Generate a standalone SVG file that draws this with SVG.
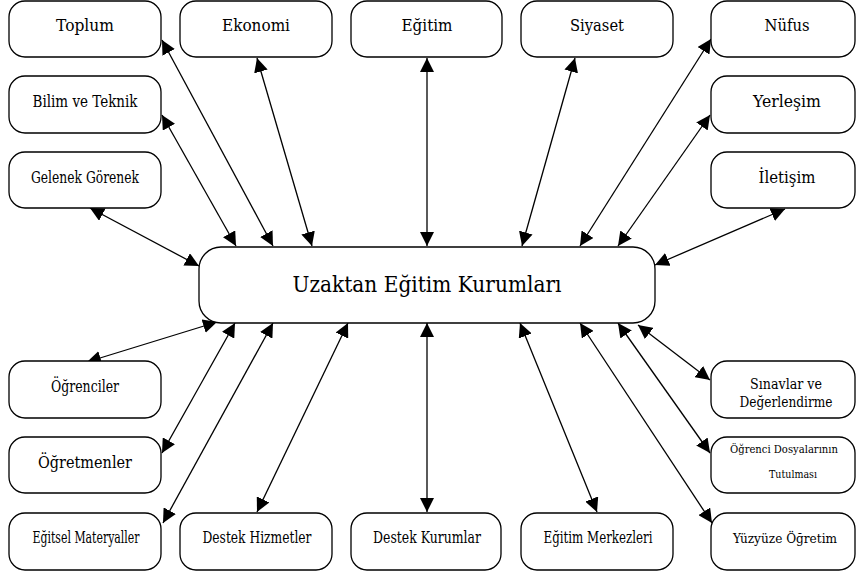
<svg xmlns="http://www.w3.org/2000/svg" width="856" height="575" viewBox="0 0 856 575">
<style>
.box{fill:#fff;stroke:#000;stroke-width:1.3}
.t{font-family:'DejaVu Serif','Noto Serif','Times New Roman',serif;font-size:17px;text-anchor:middle;fill:#000}
.n{font-size:13.5px}
.s{font-size:14.5px}
.xs{font-size:10.2px}
.c{font-size:23px}
.cn{stroke:#000;stroke-width:1.3;fill:none;marker-start:url(#ah);marker-end:url(#ah)}
</style>
<defs>
<marker id="ah" viewBox="0 -7 14 14" refX="14" refY="0" markerWidth="14" markerHeight="14" markerUnits="userSpaceOnUse" orient="auto-start-reverse">
<path d="M0,-7 L14,0 L0,7 Z" fill="#000"/>
</marker>
</defs>
<rect width="856" height="575" fill="#fff"/>
<g id="connectors">
<line class="cn" x1="273" y1="246" x2="162" y2="40"/>
<line class="cn" x1="236" y1="246" x2="162" y2="115"/>
<line class="cn" x1="312" y1="246" x2="257" y2="58"/>
<line class="cn" x1="427" y1="246" x2="427" y2="58"/>
<line class="cn" x1="522" y1="246" x2="575" y2="58"/>
<line class="cn" x1="580" y1="246" x2="711" y2="39"/>
<line class="cn" x1="618" y1="246" x2="710" y2="115"/>
<line class="cn" x1="199" y1="266" x2="90" y2="208"/>
<line class="cn" x1="655" y1="265" x2="785" y2="209"/>
<line class="cn" x1="217" y1="322" x2="87" y2="362"/>
<line class="cn" x1="235" y1="323" x2="162" y2="453"/>
<line class="cn" x1="273" y1="323" x2="163" y2="523"/>
<line class="cn" x1="348" y1="323" x2="257" y2="512"/>
<line class="cn" x1="427" y1="323" x2="427" y2="512"/>
<line class="cn" x1="520" y1="323" x2="597" y2="512"/>
<line class="cn" x1="580" y1="323" x2="712" y2="523"/>
<line class="cn" x1="618" y1="323" x2="710" y2="453"/>
<line class="cn" x1="638" y1="325" x2="710" y2="380"/>
</g>
<g id="center"><rect class="box" x="199" y="247" width="456" height="76" rx="22"/><text class="t c" x="427" y="292" textLength="269" lengthAdjust="spacingAndGlyphs">Uzaktan Eğitim Kurumları</text></g>
<g id="toplum"><rect class="box" x="9" y="1" width="152" height="56" rx="16"/><text class="t" x="85" y="31" textLength="58" lengthAdjust="spacingAndGlyphs">Toplum</text></g>
<g id="ekonomi"><rect class="box" x="180" y="1" width="152" height="56" rx="16"/><text class="t" x="256" y="31" textLength="68" lengthAdjust="spacingAndGlyphs">Ekonomi</text></g>
<g id="egitim"><rect class="box" x="351" y="1" width="151" height="56" rx="16"/><text class="t" x="427" y="31" textLength="51" lengthAdjust="spacingAndGlyphs">Eğitim</text></g>
<g id="siyaset"><rect class="box" x="521" y="1" width="152" height="56" rx="16"/><text class="t" x="597" y="31" textLength="54" lengthAdjust="spacingAndGlyphs">Siyaset</text></g>
<g id="nufus"><rect class="box" x="711" y="1" width="144" height="56" rx="16"/><text class="t" x="787" y="31" textLength="45" lengthAdjust="spacingAndGlyphs">Nüfus</text></g>
<g id="bilim"><rect class="box" x="9" y="76" width="152" height="57" rx="16"/><text class="t" x="85" y="107" textLength="105" lengthAdjust="spacingAndGlyphs">Bilim ve Teknik</text></g>
<g id="yerlesim"><rect class="box" x="711" y="76" width="144" height="57" rx="16"/><text class="t" x="787" y="107" textLength="68" lengthAdjust="spacingAndGlyphs">Yerleşim</text></g>
<g id="gelenek"><rect class="box" x="9" y="152" width="152" height="56" rx="16"/><text class="t" x="85" y="183" textLength="108" lengthAdjust="spacingAndGlyphs">Gelenek Görenek</text></g>
<g id="iletisim"><rect class="box" x="711" y="152" width="144" height="56" rx="16"/><text class="t" x="787" y="183" textLength="57" lengthAdjust="spacingAndGlyphs">İletişim</text></g>
<g id="ogrenciler"><rect class="box" x="9" y="361" width="152" height="57" rx="16"/><text class="t" x="85" y="392" textLength="68" lengthAdjust="spacingAndGlyphs">Öğrenciler</text></g>
<g id="ogretmenler"><rect class="box" x="9" y="437" width="152" height="56" rx="16"/><text class="t" x="85" y="468" textLength="94" lengthAdjust="spacingAndGlyphs">Öğretmenler</text></g>
<g id="materyaller"><rect class="box" x="9" y="513" width="152" height="57" rx="16"/><text class="t" x="86" y="543" textLength="107" lengthAdjust="spacingAndGlyphs">Eğitsel Materyaller</text></g>
<g id="hizmetler"><rect class="box" x="180" y="513" width="152" height="57" rx="16"/><text class="t" x="257" y="543" textLength="109" lengthAdjust="spacingAndGlyphs">Destek Hizmetler</text></g>
<g id="kurumlar"><rect class="box" x="351" y="513" width="150" height="57" rx="16"/><text class="t" x="427" y="543" textLength="108" lengthAdjust="spacingAndGlyphs">Destek Kurumlar</text></g>
<g id="merkezleri"><rect class="box" x="521" y="513" width="152" height="57" rx="16"/><text class="t" x="598" y="543" textLength="109" lengthAdjust="spacingAndGlyphs">Eğitim Merkezleri</text></g>
<g id="yuzyuze"><rect class="box" x="711" y="513" width="144" height="57" rx="16"/><text class="t n" x="785" y="543" textLength="104" lengthAdjust="spacingAndGlyphs">Yüzyüze Öğretim</text></g>
<g id="sinavlar"><rect class="box" x="711" y="361" width="144" height="57" rx="16"/><text class="t s" x="786" y="389" textLength="72" lengthAdjust="spacingAndGlyphs">Sınavlar ve</text><text class="t s" x="786" y="407" textLength="93" lengthAdjust="spacingAndGlyphs">Değerlendirme</text></g>
<g id="dosyalar"><rect class="box" x="711" y="437" width="144" height="56" rx="16"/><text class="t xs" x="784" y="453" textLength="108" lengthAdjust="spacingAndGlyphs">Öğrenci Dosyalarının</text><text class="t xs" x="793" y="478" textLength="48" lengthAdjust="spacingAndGlyphs">Tutulması</text></g>
</svg>
